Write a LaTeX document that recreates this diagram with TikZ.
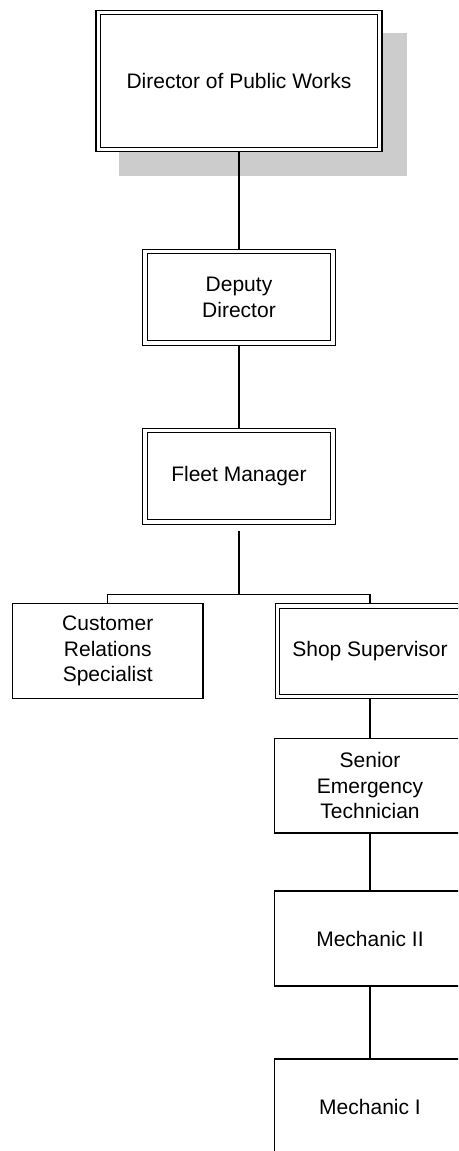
\documentclass[tikz,border=0pt]{standalone}
\usepackage{fontspec}
\setmainfont{Liberation Sans}
\usetikzlibrary{calc}
\definecolor{shadowgray}{HTML}{CCCCCC}
\begin{document}
\begin{tikzpicture}[x=1pt,y=-1pt,line width=1.1pt,
  box/.style={draw,fill=white,inner sep=0pt,align=center,
    font=\fontsize{21}{25.5}\selectfont},
  dbox/.style={box,double,double distance=3.5pt,outer sep=2.85pt},
  sbox/.style={box,outer sep=0.55pt},
  link/.style={draw,line width=1.1pt}]
\useasboundingbox (0,0) rectangle (458,1151);
\clip (0,0) rectangle (458,1151);

% drop shadow behind the top box
\fill[shadowgray] (119,33) rectangle (407,176);

% central column
\node[dbox,minimum width=281.4pt,minimum height=137pt] (dir) at (239,81) {Director of Public Works};
\node[dbox,minimum width=187.8pt,minimum height=91.7pt] (dep) at (239,297.2) {Deputy\\Director};
\node[dbox,minimum width=187.8pt,minimum height=91.3pt] (fleet) at (239,476.2) {Fleet Manager};

% second level
\node[sbox,minimum width=190.5pt,minimum height=95pt] (cust) at (107.75,651.3) {Customer\\Relations\\Specialist};
\node[dbox,minimum width=185.2pt,minimum height=90.2pt] (shop) at (370,651.3) {Shop Supervisor};

% shop staff
\node[sbox,minimum width=190.4pt,minimum height=94.8pt] (sen) at (370,785.6) {Senior\\Emergency\\Technician};
\node[sbox,minimum width=190.4pt,minimum height=95pt] (mech2) at (370,938.5) {Mechanic II};
\node[sbox,minimum width=190.4pt,minimum height=95pt] (mech1) at (370,1106.5) {Mechanic I};

% connectors
\coordinate (stub) at ($(fleet.south)+(0,6)$);
\coordinate (bus) at (239,594.5);
\draw[link] (dir.south) -- (dep.north);
\draw[link] (dep.south) -- (fleet.north);
\draw[link] (stub) -- (bus);
\draw[link] (cust.north) |- (bus) -| (shop.north);
\draw[link] (shop.south) -- (sen.north);
\draw[link] (sen.south) -- (mech2.north);
\draw[link] (mech2.south) -- (mech1.north);
\end{tikzpicture}
\end{document}
